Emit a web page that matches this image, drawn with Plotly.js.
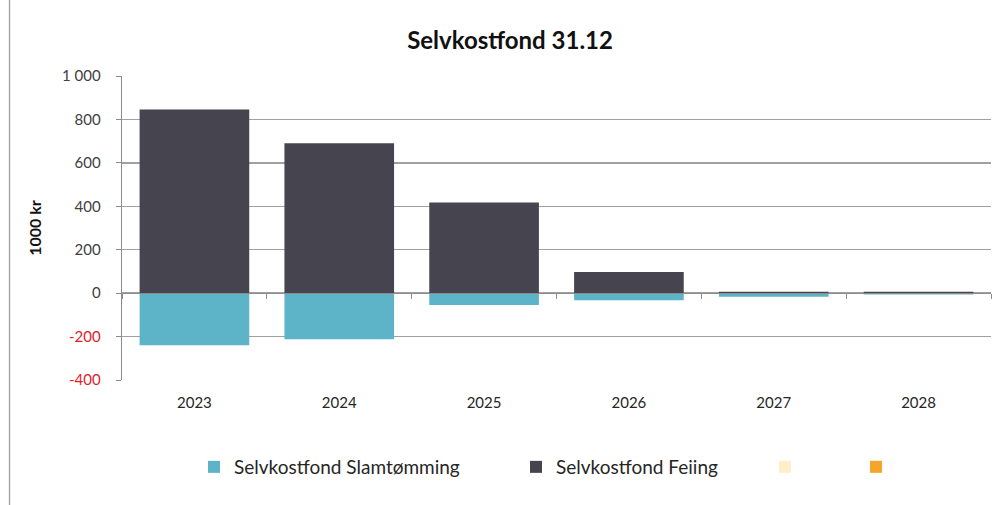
<!DOCTYPE html>
<html>
<head>
<meta charset="utf-8">
<script src="https://cdn.plot.ly/plotly-3.0.1.min.js"></script>
<style>html,body{margin:0;padding:0;background:#fff;}#chart{width:1006px;height:505px;}</style>
</head>
<body>
<div id="chart"></div>
<script>
const categories = ['2023', '2024', '2025', '2026', '2027', '2028'];
const slamtomming = [-240, -212, -55, -33, -17, -6];
const feiing = [846, 690, 418, 97, 6, 6];
const tickValues = [-400, -200, 0, 200, 400, 600, 800, 1000];
const tickLabels = ['-400', '-200', '0', '200', '400', '600', '800', '1 000'];
const seriesNames = ['Selvkostfond Slamtømming', 'Selvkostfond Feiing', ' ', ' '];
const emptySeries = [null, null, null, null, null, null];

const L = 122, R = 991, T = 76, B = 380;
const W = R - L, H = B - T;
const px = v => (v - L) / W;
const py = v => (B - v) / H;

const colors = ['#5DB3C7', '#46454F', '#FDF0C8', '#F7A42B'];
const legendFont = {family: 'Lato, sans-serif', size: 19, color: '#262626'};

const traces = [
  {type: 'bar', x: categories, y: slamtomming, name: seriesNames[0], marker: {color: colors[0]}, legend: 'legend'},
  {type: 'bar', x: categories, y: feiing, name: seriesNames[1], marker: {color: colors[1]}, legend: 'legend2'},
  {type: 'bar', x: categories, y: emptySeries, name: seriesNames[2], marker: {color: colors[2]}, legend: 'legend3'},
  {type: 'bar', x: categories, y: emptySeries, name: seriesNames[3], marker: {color: colors[3]}, legend: 'legend4'},
  {type: 'scatter', mode: 'none', x: categories, y: [0,0,0,0,0,0], xaxis: 'x2', showlegend: false, hoverinfo: 'skip'}
];

const tickText = tickValues.map((v, i) => v < 0 ? '<span style="color:#E0202A">' + tickLabels[i] + '</span>' : tickLabels[i]);

function leg(xpx) {
  return {orientation: 'h', x: px(xpx), xanchor: 'left', y: py(467), yanchor: 'middle',
          font: legendFont, bgcolor: 'rgba(0,0,0,0)', itemclick: false, itemdoubleclick: false};
}

const layout = {
  width: 1006, height: 505,
  margin: {l: L, r: 1006 - R, t: T, b: 505 - B},
  paper_bgcolor: '#fff', plot_bgcolor: '#fff',
  barmode: 'relative', bargap: 0.243,
  showlegend: true,
  title: {text: '<b>Selvkostfond 31.12</b>', x: 0.507, xanchor: 'center', y: 0.92, yanchor: 'middle',
          font: {family: 'Lato, sans-serif', size: 24, color: '#111'}},
  xaxis: {type: 'category', categoryarray: categories, showline: false, showgrid: false, zeroline: false,
          ticks: '', ticklabelstandoff: 12, tickfont: {family: 'Lato, sans-serif', size: 15, color: '#262626'},
          fixedrange: true},
  xaxis2: {type: 'category', categoryarray: categories, overlaying: 'x', matches: 'x', anchor: 'free',
           position: 400 / 1400, showline: true, linecolor: '#8c8c8c', linewidth: 1.3,
           ticks: 'outside', tickson: 'boundaries', ticklen: 5, tickcolor: '#8c8c8c',
           showticklabels: false, showgrid: false, zeroline: false},
  yaxis: {range: [-400, 1000], tickvals: tickValues, ticktext: tickText,
          showline: true, linecolor: '#8c8c8c', linewidth: 1.3, ticks: 'outside', ticklen: 5, tickcolor: '#8c8c8c',
          showgrid: true, gridcolor: '#a0a0a0', gridwidth: 1.3, zeroline: false,
          ticklabelstandoff: 12, tickfont: {family: 'Lato, sans-serif', size: 15, color: '#404040'},
          title: {text: '<b>1000 kr</b>', standoff: 16, font: {family: 'Lato, sans-serif', size: 16, color: '#111'}},
          fixedrange: true},
  legend: leg(194),
  legend2: leg(516),
  legend3: leg(765),
  legend4: leg(856),
  shapes: [
    {type: 'line', xref: 'paper', yref: 'paper', x0: px(9.5), x1: px(9.5), y0: py(505), y1: py(0),
     line: {color: '#a0a0a0', width: 1.3}}
  ]
};

Plotly.newPlot('chart', traces, layout, {displayModeBar: false, staticPlot: true});
</script>
</body>
</html>
